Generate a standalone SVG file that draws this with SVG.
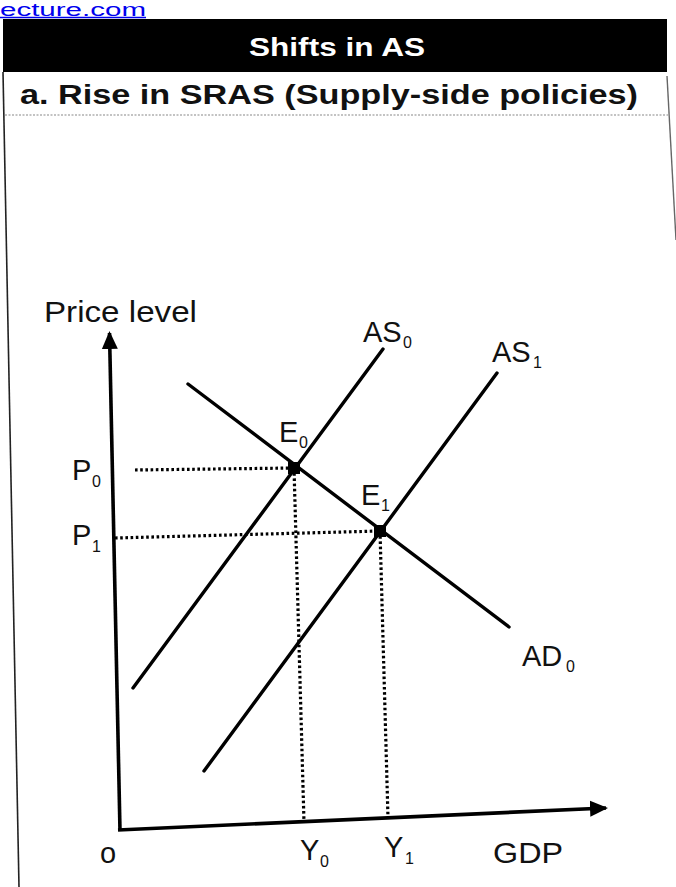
<svg xmlns="http://www.w3.org/2000/svg" width="676" height="887" viewBox="0 0 676 887">
  <style>
    .lbl { font-family: "Liberation Sans", Arial, sans-serif; font-size: 29px; fill: #111; }
    .sub { font-family: "Liberation Sans", Arial, sans-serif; font-size: 16px; fill: #111; }
    .curve { stroke: #000; stroke-width: 3.4; fill: none; stroke-linecap: round; }
    .axis { stroke: #000; stroke-width: 3.6; fill: none; }
    .dot { stroke: #000; stroke-width: 3.2; fill: none; stroke-dasharray: 2.6 2.6; }
    .frame { stroke: #222; stroke-width: 1.6; fill: none; }
  </style>
  <defs>
    <marker id="arrow" markerUnits="userSpaceOnUse" markerWidth="20" markerHeight="18" refX="16" refY="9" orient="auto">
      <path d="M0,1 L18,9 L0,17 z" fill="#000"/>
    </marker>
  </defs>
  <rect width="676" height="887" fill="#fff"/>

  <g id="link">
    <text x="0" y="16" font-family="Liberation Sans, Arial, sans-serif" font-size="18" fill="#0000ee" textLength="146" lengthAdjust="spacingAndGlyphs">ecture.com</text>
    <line x1="0" y1="17.5" x2="146" y2="17.5" stroke="#0000ee" stroke-width="1.5"/>
  </g>

  <g id="header">
    <rect x="3" y="19" width="664" height="53" fill="#000"/>
    <text x="249" y="56" font-family="Liberation Sans, Arial, sans-serif" font-size="26" font-weight="bold" fill="#fff" textLength="176" lengthAdjust="spacingAndGlyphs">Shifts in AS</text>
  </g>

  <g id="frame">
    <line class="frame" x1="3" y1="72" x2="19" y2="887"/>
    <line x1="667" y1="76" x2="676" y2="240" stroke="#666" stroke-width="1.4"/>
    <line x1="5" y1="115" x2="668" y2="115" stroke="#888" stroke-width="1.2" stroke-dasharray="2 1.5"/>
  </g>

  <g id="subtitle">
    <text x="20" y="104" font-family="Liberation Sans, Arial, sans-serif" font-size="27" font-weight="bold" fill="#111" textLength="618" lengthAdjust="spacingAndGlyphs">a. Rise in SRAS (Supply-side policies)</text>
  </g>

  <g id="axes">
    <line class="axis" x1="120" y1="831" x2="109.5" y2="333" marker-end="url(#arrow)"/>
    <line class="axis" x1="118" y1="830" x2="606" y2="808" marker-end="url(#arrow)"/>
    <text class="lbl" x="44" y="322" textLength="153" lengthAdjust="spacingAndGlyphs">Price level</text>
    <text class="lbl" x="100" y="863">o</text>
    <text class="lbl" x="493" y="863" textLength="70" lengthAdjust="spacingAndGlyphs">GDP</text>
  </g>

  <g id="connectors">
    <line class="dot" x1="135" y1="470" x2="294" y2="468"/>
    <line class="dot" x1="115" y1="538" x2="380" y2="531"/>
    <line class="dot" x1="294" y1="468" x2="304" y2="822"/>
    <line class="dot" x1="380" y1="531" x2="388" y2="818"/>
  </g>

  <g id="AD0">
    <line class="curve" x1="188" y1="384" x2="509" y2="627"/>
    <text class="lbl" x="522" y="666">AD</text>
    <text class="sub" x="566" y="672">0</text>
  </g>

  <g id="AS0">
    <line class="curve" x1="133" y1="688" x2="383" y2="349"/>
    <text class="lbl" x="363" y="342">AS</text>
    <text class="sub" x="403" y="348">0</text>
  </g>

  <g id="AS1">
    <line class="curve" x1="204" y1="771" x2="497" y2="373"/>
    <text class="lbl" x="492" y="362">AS</text>
    <text class="sub" x="533" y="368">1</text>
  </g>

  <g id="E0">
    <rect x="288" y="462" width="12" height="12" fill="#000"/>
    <text class="lbl" x="279" y="442">E</text>
    <text class="sub" x="299" y="448">0</text>
  </g>

  <g id="E1">
    <rect x="374" y="525" width="12" height="12" fill="#000"/>
    <text class="lbl" x="361" y="505">E</text>
    <text class="sub" x="381" y="511">1</text>
  </g>

  <g id="P0">
    <text class="lbl" x="72" y="480">P</text>
    <text class="sub" x="92" y="487">0</text>
  </g>
  <g id="P1">
    <text class="lbl" x="72" y="545">P</text>
    <text class="sub" x="92" y="552">1</text>
  </g>
  <g id="Y0">
    <text class="lbl" x="300" y="860">Y</text>
    <text class="sub" x="320" y="867">0</text>
  </g>
  <g id="Y1">
    <text class="lbl" x="384" y="857">Y</text>
    <text class="sub" x="405" y="864">1</text>
  </g>
</svg>
